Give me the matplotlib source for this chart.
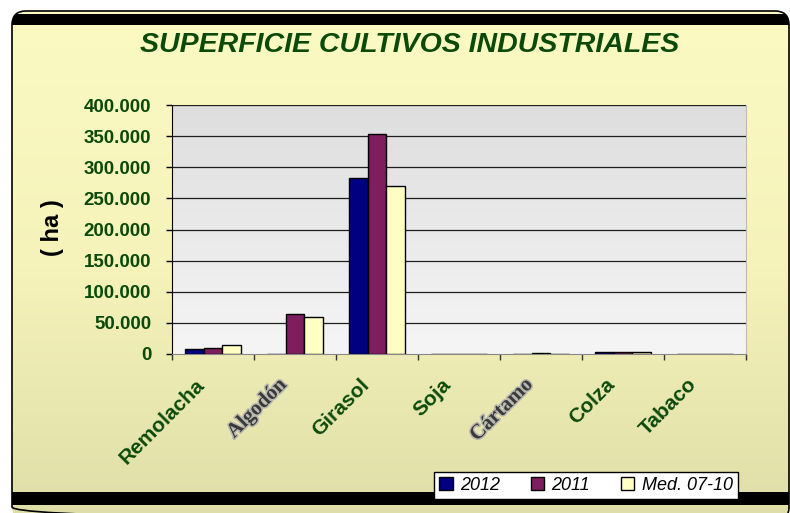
import numpy as np
import matplotlib
matplotlib.use("Agg")
import matplotlib.pyplot as plt
from matplotlib.patches import FancyBboxPatch, Rectangle
from matplotlib.colors import LinearSegmentedColormap
import matplotlib.patheffects as pe
from matplotlib.ticker import FuncFormatter

categories = ["Remolacha", "Algodón", "Girasol", "Soja", "Cártamo", "Colza", "Tabaco"]
series_names = ["2012", "2011", "Med. 07-10"]
v2012 = [7500, 0, 282000, 0, 0, 2500, 0]
v2011 = [10000, 65000, 353000, 0, 2000, 2500, 0]
vmed = [14500, 60000, 270000, 0, 0, 2500, 0]
colors = ["#000080", "#7e1e5e", "#ffffc4"]
title = "SUPERFICIE CULTIVOS INDUSTRIALES"
ylabel = "( ha )"
yticks = [0, 50000, 100000, 150000, 200000, 250000, 300000, 350000, 400000]

W, H = 790, 513
fig = plt.figure(figsize=(W / 100, H / 100), dpi=100)
fig.patch.set_facecolor("white")
green = "#0b4a0b"
plt.rcParams["font.family"] = ["Liberation Sans", "DejaVu Sans"]

# background frame
bg = fig.add_axes([0, 0, 1, 1])
bg.set_xlim(0, W)
bg.set_ylim(H, 0)
bg.axis("off")
frame = FancyBboxPatch((12, 11), 777, 510, boxstyle="round,pad=0,rounding_size=14",
                       facecolor="none", edgecolor="black", lw=1.2, zorder=3)
bg.add_patch(frame)
cmap_bg = LinearSegmentedColormap.from_list("bg", ["#fbfac3", "#f5f3ba", "#dfdea8"])
grad = np.linspace(0, 1, 256).reshape(-1, 1)
im = bg.imshow(grad, cmap=cmap_bg, extent=[12, 789, 521, 11], aspect="auto", zorder=1)
im.set_clip_path(frame)
top_band = Rectangle((12, 13.5), 777, 11.5, facecolor="black", edgecolor="none", zorder=2)
top_band.set_clip_path(frame)
bg.add_patch(top_band)
bot_band = Rectangle((12, 492), 778, 13, facecolor="black", edgecolor="none", zorder=2)
bot_band.set_clip_path(frame)
bg.add_patch(bot_band)

# main axes
left, right, top, bottom = 172, 746, 105, 354
ax = fig.add_axes([left / W, 1 - bottom / H, (right - left) / W, (bottom - top) / H])
ax.set_facecolor("none")
n = len(categories)
x = np.arange(n)
ax.set_xlim(-0.5, n - 0.5)
ax.set_ylim(0, 400000)
cmap_pl = LinearSegmentedColormap.from_list("pl", ["#dedede", "#f5f5f5"])
ax.imshow(grad, cmap=cmap_pl, extent=[-0.5, n - 0.5, 0, 400000], aspect="auto", zorder=0)

bw = 0.225
for i, (vals, c) in enumerate(zip([v2012, v2011, vmed], colors)):
    ax.bar(x + (i - 1) * bw, vals, width=bw, color=c, edgecolor="black", lw=1.0,
           label=series_names[i], zorder=3)

for yv in yticks[1:]:
    ax.axhline(yv, color="#1e1e1e", lw=0.9, zorder=1)

ax.set_yticks(yticks)
ax.yaxis.set_major_formatter(FuncFormatter(lambda v, p: f"{int(v):,}".replace(",", ".")))
for lab in ax.get_yticklabels():
    lab.set_fontweight("bold")
    lab.set_color(green)
    lab.set_fontsize(13.5)
ax.tick_params(axis="y", direction="out", length=4, width=1, color="black", pad=11)

ax.set_xticks(np.arange(-0.5, n, 1.0))
ax.set_xticklabels([])
ax.tick_params(axis="x", which="major", direction="out", length=4, width=1, color="#333333")
ax.set_xticks(x, minor=True)
ax.set_xticklabels([], minor=True)
ax.tick_params(axis="x", which="minor", length=0)

ax.spines["top"].set_visible(False)
ax.spines["right"].set_color("#bbbbbb")
ax.spines["left"].set_color("black")
ax.spines["bottom"].set_color("#888888")

# x labels
for i, cat in enumerate(categories):
    if cat in ("Algodón", "Cártamo"):
        t = ax.annotate(cat, xy=(i, 0), xycoords="data", xytext=(-8, -20), textcoords="offset points",
                        rotation=45, ha="right", va="center", rotation_mode="anchor",
                        fontsize=15, fontweight="bold", color="#3a3a3a",
                        family=["Liberation Serif", "DejaVu Serif"])
        t.set_path_effects([pe.withStroke(linewidth=2.2, foreground="#b8b8b0")])
    else:
        ax.annotate(cat, xy=(i, 0), xycoords="data", xytext=(-8, -20), textcoords="offset points",
                    rotation=45, ha="right", va="center", rotation_mode="anchor",
                    fontsize=15, fontweight="bold", color=green)

fig.text(410 / W, 1 - 45 / H, title, ha="center", va="center", fontsize=20.5,
         fontweight="bold", fontstyle="italic", color=green)
fig.text(53 / W, 1 - 228 / H, ylabel, ha="center", va="center", rotation=90,
         fontsize=17, fontweight="bold", color="black")

handles, labels = ax.get_legend_handles_labels()
leg = fig.legend(handles, labels, loc="center", bbox_to_anchor=(586 / W, 1 - 485.5 / H),
                 ncol=3, frameon=True, fancybox=False, edgecolor="black",
                 prop={"style": "italic", "size": 13}, handlelength=0.75, handleheight=0.75,
                 handletextpad=0.4, columnspacing=1.7, borderpad=0.3)
leg.get_frame().set_facecolor("white")
leg.get_frame().set_linewidth(1.0)
leg.get_frame().set_alpha(1)

fig.savefig("out.png", dpi=100, facecolor="white")
